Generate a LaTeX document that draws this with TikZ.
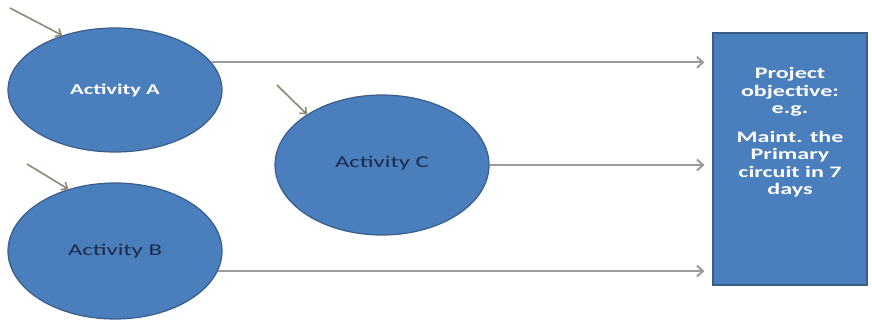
\documentclass[tikz,border=0pt]{standalone}
\usepackage{fontspec}
\newfontfamily\wideface[FakeStretch=1.5]{Carlito}
\usetikzlibrary{shapes.geometric,arrows.meta}

\definecolor{actfill}{HTML}{4A7EBD}
\definecolor{actline}{HTML}{3A5D89}
\definecolor{linkgray}{HTML}{9A9A9A}
\definecolor{cuegray}{HTML}{8A8A72}
\definecolor{navytext}{HTML}{1C2B4A}

\begin{document}
\begin{tikzpicture}[x=1pt,y=-1pt,
  activity/.style={ellipse, draw=actline, line width=1.2pt, fill=actfill,
    inner sep=0pt, font=\wideface\fontsize{16.5}{18}\selectfont},
  objbox/.style={rectangle, draw=actline, line width=1.2pt, fill=actfill,
    inner sep=0pt, minimum width=154pt, minimum height=252pt},
  objtext/.style={align=center, text=white, inner sep=0pt,
    font=\wideface\bfseries\fontsize{16}{17.5}\selectfont},
  link/.style={draw=linkgray, line width=2pt,
    -{Straight Barb[length=6pt,width=11pt]}, shorten >=8pt},
  cue/.style={draw=cuegray, line width=1.6pt,
    -{Straight Barb[length=5pt,width=9pt]}}
]
\useasboundingbox (0,0) rectangle (872,331);

% activities
\node[activity, minimum width=214pt, minimum height=124pt, text=white,
      font=\wideface\bfseries\fontsize{15}{18}\selectfont] (A) at (115,90) {Activity A};
\node[activity, minimum width=214pt, minimum height=136pt, text=navytext] (B) at (115,251) {Activity B};
\node[activity, minimum width=214pt, minimum height=140pt, text=navytext] (C) at (382,165) {\raisebox{6pt}{Activity C}};

% project objective
\node[objbox] (R) at (790,159) {};
\node[objtext, anchor=north] (Rt) at ([yshift=-35pt]R.north)
  {Project\\objective:\\e.g.\\[11pt]Maint. the\\Primary\\circuit in 7\\days};

% links into the objective
\draw[link] (A.16) -- (A.16 -| R.west);
\draw[link] (C.east) -- (C.east -| R.west);
\draw[link] (B.-11) -- (B.-11 -| R.west);

% incoming cues
\coordinate (cA) at (10,8);
\coordinate (cB) at (27,164);
\coordinate (cC) at (277,85);
\draw[cue] (cA) -- (A.134);
\draw[cue] (cB) -- (B.127);
\draw[cue] (cC) -- (C.146);
\end{tikzpicture}
\end{document}
